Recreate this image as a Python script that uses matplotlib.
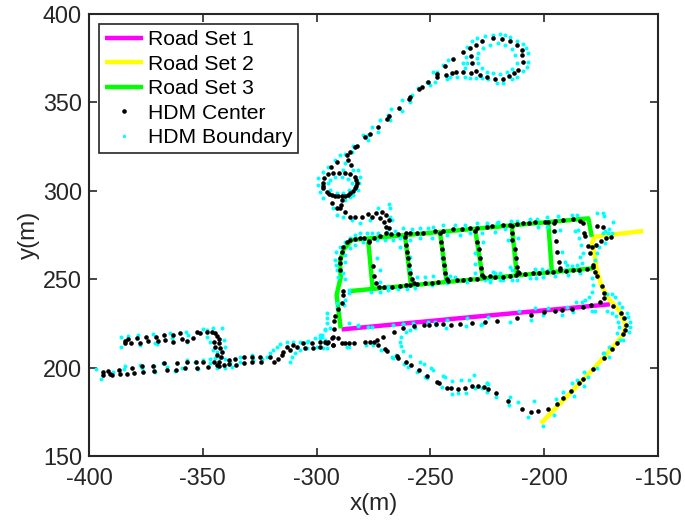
import numpy as np
import matplotlib
matplotlib.use("Agg")
import matplotlib.pyplot as plt

plt.rcParams['font.family'] = ['Liberation Sans', 'DejaVu Sans']
plt.rcParams['axes.unicode_minus'] = False

# road sets, x then y
road1_x = [-289, -230, -171.1]
road1_y = [221.6, 228.8, 235.8]

road2_x = [-156.4, -177.7, -179.1, -178, -176.9, -174.7, -171.8, -166.7, -164.2, -165.2, -169.6, -178.4, -201.4]
road2_y = [277.3, 274, 270.3, 264.6, 255.2, 245.8, 239.2, 231.7, 224.1, 218.8, 211.9, 199.2, 168.5]

# outer loop of set 3, then the cross streets
road3_outer_x = [-289.4, -290.5, -291.2, -289.4, -289.7, -288.3, -284.6, -276.5, -180.6, -179.1]
road3_outer_y = [222.2, 233.5, 241.1, 251.1, 259.9, 266.5, 272.2, 273.1, 284.4, 274]
road3_lower_x = [-285.3, -178.4]
road3_lower_y = [243.3, 256.2]
cross_top_x = [-277.3, -261.2, -245.8, -230.4, -214.3, -198.2]
cross_top_y = [271.2, 275, 276.9, 278.8, 280.7, 281.6]
cross_bot_x = [-275.4, -258.5, -242.9, -227, -212.1, -196.7]
cross_bot_y = [245.4, 246.7, 248.6, 250.5, 253.3, 255.2]

# hdm center points
center_west_upper = [
    (-384.4, 215.2), (-384.1, 213.7), (-382.7, 216), (-381.7, 214.1), (-378.7, 216.5), (-377.8, 214.1),
    (-374.9, 217.5), (-373.9, 215), (-370.5, 217.5), (-369.8, 215.2), (-366.9, 218.4), (-366.6, 215.6),
    (-363.2, 218.4), (-363.2, 214.6), (-360, 219.4), (-359.2, 216), (-357, 215.2), (-354.1, 216.5),
    (-352.4, 219.9), (-351.2, 219.4), (-348.3, 220.3), (-346.1, 220.3), (-344.6, 219.4), (-343.9, 217.8),
    (-343.1, 216), (-342.7, 213.7), (-342.4, 211.2), (-341.7, 209), (-342.1, 206.2), (-345, 214.6),
    (-344.6, 211.8), (-343.9, 207.1), (-342.7, 203.3), (-342.7, 201.1),
]
center_west_lower = [
    (-393.95, 197.7), (-393.7, 195.8), (-391.5, 198.2), (-390.7, 196.4), (-389.7, 195.8), (-386.6, 198.6),
    (-386.3, 196.4), (-383.4, 196.4), (-381.2, 199.6), (-380.2, 196.7), (-376.8, 200.9), (-376.4, 197.7),
    (-372, 200.9), (-371.3, 198.2), (-367, 202.4), (-365.8, 198.6), (-361.4, 202.4), (-361.7, 198.6),
    (-357, 203.3), (-357.8, 199.6), (-352.9, 203.3), (-352.7, 199.6), (-349.7, 203.3), (-347.5, 200.5),
    (-345, 203.3), (-343.9, 201.4), (-340.9, 201.4), (-338.7, 204.3), (-338.7, 202), (-335.8, 204.6),
    (-335.5, 201.4), (-332.1, 205.8), (-332.1, 202.4), (-328.5, 206.2), (-328.5, 202.9), (-324.8, 206.2),
    (-324.5, 203.3), (-320.4, 206.2), (-318.7, 203.3), (-316.8, 204.6), (-315.3, 207.1), (-314.6, 209),
    (-313.1, 211.4), (-311.6, 209.9), (-310.2, 212.8), (-308.7, 211.8), (-305.8, 213.7), (-305.1, 210.9),
    (-302.1, 213.7), (-301.7, 210.9), (-298.7, 214.6), (-298.5, 211.8), (-296.3, 214.6), (-295.5, 213.7),
    (-293.3, 216.5), (-292.6, 212.8),
]
center_left_side = [
    (-285.3, 272.2), (-286.8, 271.2), (-288.3, 268.4), (-289, 265.6), (-289.7, 261.8), (-289.7, 259),
    (-289.7, 255.2), (-288.6, 243.5), (-288.3, 241.1), (-289, 236.4), (-290.5, 233), (-291.9, 229.2),
    (-292.2, 226.4), (-292.2, 221.6), (-292.9, 217.5), (-294.8, 214.7), (-292.6, 212.8),
]
center_top_road = [
    (-283.1, 272.7), (-280.9, 273.1), (-279.2, 273.1), (-277, 271.6), (-274.8, 273.5), (-272.2, 274.6),
    (-269.5, 275.9), (-267.5, 275.4), (-264.1, 275.4), (-260.7, 275.9), (-259, 275.9), (-256, 275.9),
    (-253.1, 276.3), (-248, 277.1), (-244.3, 277.5), (-240.2, 278.2), (-236.3, 278.2), (-232.6, 278.8),
    (-229.7, 278.8), (-225.3, 279.7), (-223.1, 280.1), (-217.9, 280.7), (-215, 280.7), (-212.1, 281),
    (-209.5, 281.6), (-206.5, 282), (-204, 282.2), (-199.6, 282.5), (-198.2, 282.5), (-195.2, 283.1),
    (-191.6, 283.5), (-187.2, 283.9), (-184.3, 283.1),
]
center_low_road = [
    (-270.4, 245.4), (-267, 245.8), (-263.4, 246.2), (-260.7, 246.7), (-259, 246.7), (-256, 247.1),
    (-252.4, 247.7), (-249.4, 248), (-246.5, 248.6), (-242.1, 249.2), (-238.5, 249.6), (-235.5, 249.6),
    (-232.6, 250), (-229.7, 250.3), (-226.5, 251), (-223.8, 251.8), (-221.6, 251), (-218.2, 251.4),
    (-215, 251.8), (-212.4, 252.4), (-210.9, 253.3), (-208.4, 252.9), (-204.8, 253.7), (-202.1, 253.7),
    (-198.9, 253.9), (-196.3, 254.3), (-193, 255.2), (-190.4, 254.7), (-187.2, 255.2), (-184.7, 255.2),
    (-181, 255.8), (-178.4, 256.7),
]
center_cross = [
    (-276.8, 271.2), (-275.4, 257.5), (-274.8, 251.8), (-273.9, 247.7), (-272.4, 245.8),
    (-261.2, 273.7), (-260.7, 269.4), (-260.1, 265.6), (-259.7, 261.8), (-259.3, 258), (-259, 253.3),
    (-258.2, 249.9), (-257.2, 247.7),
    (-245.8, 275.9), (-245.3, 271.2), (-244.9, 266.9), (-244.3, 261.8), (-244, 258), (-243.4, 253.3), (-242.6, 249.9),
    (-230.4, 277.5), (-229.4, 271.2), (-228.8, 266.9), (-228.2, 261.8), (-227.9, 256.1), (-227.3, 252.4),
    (-214.3, 280.1), (-214.3, 276.3), (-214, 272.2), (-212.8, 266.9), (-212.5, 261.8), (-212.1, 257.1), (-211.4, 254.3),
    (-195.7, 281.6), (-195.7, 277.5), (-194.8, 271.6), (-194.2, 265.6), (-193.5, 259.5), (-193, 256.1),
]
center_east = [
    (-183.1, 281.6), (-182.5, 275.9), (-182.1, 274.4), (-180.9, 268.8), (-179.1, 268), (-179.9, 265),
    (-176.7, 280.1), (-174.3, 279.3), (-170.8, 273.7), (-172.8, 273.1), (-175.2, 271.8), (-177.4, 269.3),
    (-178.4, 258), (-177.7, 254.3), (-176.6, 251.8), (-174.7, 246.4), (-173.7, 242), (-173.7, 239.2),
    (-175.5, 237.3), (-179.6, 235.4), (-182.8, 234.5), (-187.9, 233), (-192.3, 232.6), (-195.2, 232.2),
    (-199.9, 231.6), (-205.8, 229.9), (-212.1, 228.3), (-220.9, 226.4), (-226, 225.6),
    (-169.6, 234.9), (-166.2, 231.1), (-164.9, 227.9), (-164.2, 224.1), (-164.5, 221.3), (-165.2, 218.8),
    (-168.2, 213.7), (-170.4, 210.4), (-173.7, 205.6), (-178.4, 199.2), (-183.1, 193.6), (-184.7, 191.5),
    (-188.2, 187), (-191.9, 182.6), (-194.2, 179.4), (-198.2, 176.6), (-202.6, 175.3), (-205.8, 175.1),
    (-209.6, 176.4), (-215.8, 181.1), (-221.3, 185.8), (-224.5, 188.1), (-226.4, 189.2),
]
center_south = [
    (-231.9, 225.4), (-237, 224.5), (-241.1, 224.1), (-244.3, 224.7), (-247.5, 224.5), (-250.5, 224.1),
    (-252.7, 224.1), (-257.2, 223.5), (-261.9, 222.2), (-266, 220.3), (-270.7, 217.5),
    (-290.4, 216.5), (-289, 214.1), (-287.5, 213.7), (-285.6, 213.7), (-283.4, 214.1), (-278.7, 214.5),
    (-276.5, 214.6), (-274.8, 214.6), (-273.6, 215.6), (-272.9, 212.8), (-269.9, 210.5), (-268.9, 209.6),
    (-264.5, 206.5), (-264.1, 205.6), (-260.7, 203.3), (-258.7, 201.5), (-255.1, 198.6), (-251.3, 195.4),
    (-246.9, 192), (-246.1, 191.3), (-242.5, 188.6), (-241.1, 188.3), (-237.9, 187.9), (-234.6, 188.6),
    (-231.6, 189.4), (-229.1, 189.6),
]
center_ring = [
    (-297.3, 304.2), (-297, 301.4), (-295.6, 299.1), (-293.4, 297.6), (-290.5, 297.1), (-287.5, 297.3),
    (-285.3, 298.6), (-283.1, 301.4), (-282.4, 304.2), (-283.1, 308), (-285.3, 309.5), (-287.5, 309.9),
    (-290, 310.3), (-292.7, 309.9), (-294.9, 309.3), (-296.8, 307.1), (-297.2, 302.7), (-294.6, 298.2),
    (-291.9, 297.3), (-289, 297.1), (-286.4, 297.8), (-284.2, 299.9), (-282.7, 302.7), (-282.7, 306.1),
]
center_north = [
    (-293.8, 313.3), (-290.9, 316.5), (-285.3, 321.8), (-286.8, 320.3), (-286.1, 317.4), (-285, 314.6),
    (-283.1, 325), (-282.1, 325.3), (-278.7, 330.2), (-276.5, 332.1), (-272.9, 336.3), (-269.2, 340.6),
    (-268, 342.5), (-263.8, 346.8), (-259.5, 351.7), (-259, 352.9), (-254.9, 357.6), (-253.8, 358.5),
    (-251.1, 361.5), (-247.3, 364.6), (-247.3, 366.1), (-243.1, 365.5), (-240.7, 366.4), (-238.8, 367.4),
    (-235.5, 367.4), (-232.2, 366.4), (-230, 367.9), (-228.2, 365.5), (-225.3, 364.2), (-221.6, 363.2),
    (-218.3, 363.2), (-215.3, 364.9), (-213.3, 366.4), (-211.4, 368.3), (-209.5, 373), (-209.6, 376.8),
    (-209.9, 379.6), (-212.1, 382.5), (-215, 384.9), (-218.4, 385.9), (-222.6, 386.2), (-227.2, 384.9),
    (-230.1, 382.5), (-232.6, 380.6), (-232.2, 376.2), (-231.9, 372.1), (-235.8, 378.3), (-240.2, 374.4),
    (-243.6, 370.8),
]
center_link = [
    (-289, 294.8), (-289.4, 292), (-289.7, 290.1), (-293.4, 292.9), (-291.2, 290.1), (-287.5, 288.2),
    (-285.3, 285.4), (-283.1, 285.4), (-280.2, 285), (-277.3, 286.7), (-275.8, 285.4), (-273.9, 287.6),
    (-271.4, 288.2), (-269.5, 286.3), (-268, 283.5), (-272.2, 284.4), (-270.4, 282.6), (-269.5, 279.7),
    (-268, 278.8),
]

# hdm boundary points
boundary_west = [
    (-394.8, 193.5), (-396.9, 199.4), (-389.3, 197.7), (-384.1, 201.1), (-384.6, 199.2), (-377.5, 201.4),
    (-376.8, 199.6), (-371.4, 200.9), (-371, 197.7), (-367.3, 202.4), (-365.8, 200.5), (-362.2, 198.2),
    (-357, 204.3), (-359.2, 199.6), (-353.4, 203.3), (-351.9, 199.2), (-349.7, 204.3), (-346.8, 204.7),
    (-344.6, 205.2), (-342.4, 205.2), (-340.2, 204.7), (-338, 203.3), (-337.3, 200.5), (-340.2, 199.6),
    (-346.8, 202.4), (-343.9, 199.6), (-333.6, 206.2), (-333.6, 203.3), (-328.5, 207.1), (-328, 204.3),
    (-324.1, 204.7), (-321.9, 206.2), (-320.4, 208), (-319, 209.9), (-317.5, 211.8), (-316, 213.3),
    (-313.1, 214.6), (-310.2, 214.6), (-307.3, 214.6), (-303.6, 215.2), (-297.7, 218.4), (-296.3, 215.6),
    (-298.5, 216.5), (-295.5, 210.9), (-311.6, 203.3), (-310.9, 206.2), (-309.4, 208), (-307.3, 209.9),
    (-304.3, 210.9), (-299.9, 211.8), (-297, 210.9),
    (-386, 217.5), (-386, 211.4), (-382.7, 217.8), (-378.3, 218.4), (-377.6, 212.8), (-371.7, 219),
    (-371, 214.1), (-370.2, 213.3), (-364.4, 219.4), (-363.6, 216.5), (-357.3, 220.3), (-356.3, 218.4),
    (-357, 214.6), (-349.7, 221.8), (-348.3, 221.2), (-345.3, 222.2), (-341.7, 222.2), (-348.3, 217.5),
    (-346.8, 214.6), (-345.3, 209.9), (-343.9, 209), (-340.2, 211.8), (-340.9, 215.6),
    (-295.5, 230.7), (-296.3, 221.6), (-294.1, 222.2), (-291.1, 236.3),
]
boundary_left_side = [
    (-291.9, 260.9), (-291.5, 258), (-290.9, 255.2), (-290.5, 251.4), (-291.5, 265.6), (-289.7, 268.4),
    (-287.5, 271.2), (-285.3, 273.1), (-283.1, 275), (-280.9, 275.9), (-278, 275.9), (-287.5, 259.9),
    (-287.5, 263.7), (-285.3, 267.5), (-283.1, 269.4), (-279.5, 271.2), (-288.3, 253.3), (-287.5, 249.9),
    (-285.6, 243.9), (-285.6, 242), (-287.8, 235.4), (-287.5, 238.2), (-290.9, 233.5), (-295.6, 227.9),
    (-295.6, 225), (-296.3, 221.3), (-298.5, 218.4), (-300.7, 216.6), (-304.4, 214.7), (-297.8, 217.5),
    (-296.3, 214.1),
]
boundary_grid = [
    (-275.8, 275.9), (-272.9, 276.3), (-269.2, 276.9), (-265.6, 277.5), (-261.9, 278.8), (-258.2, 278.2),
    (-254.6, 278.8), (-250.9, 278.8), (-248.7, 279.7), (-244.3, 280.7), (-239.2, 280.7), (-234.8, 280.7),
    (-229.7, 281.6), (-225.3, 280.7), (-220.9, 281.6), (-273.6, 272.2), (-270, 272.2), (-266.3, 272.2),
    (-263.4, 273.1), (-259, 272.2), (-254.6, 273.1), (-249.4, 273.5), (-242.9, 275), (-237, 275),
    (-232.6, 275.9), (-227.5, 275.9), (-221.6, 276.9), (-263.4, 268), (-273.6, 262.2), (-272.2, 255.2),
    (-272.2, 248.6), (-259, 262.8), (-259, 255.2), (-245.1, 261.8), (-230.4, 264.6), (-230.4, 258.6),
    (-276.3, 243), (-272.2, 243), (-268.5, 243.9), (-264.1, 244.3), (-260.4, 244.3), (-256.8, 244.8),
    (-249.4, 246.7), (-242.9, 247.7), (-234.1, 248.6), (-223.8, 249.6), (-219.4, 249.6), (-268.5, 245.8),
    (-256, 251.1), (-252.4, 251.1), (-248.7, 251.8), (-241.4, 251.8), (-239.2, 251.1), (-230.4, 253.3),
    (-222.4, 254.3),
    (-225.3, 282), (-220.1, 282.5), (-214.7, 283.1), (-212.1, 283.1), (-206.2, 283.9), (-203.3, 283.9),
    (-198.9, 285.4), (-193.8, 285.7), (-187.9, 286.3), (-185.7, 286.3), (-176.6, 287.6), (-174.3, 287.6),
    (-173.7, 285.7), (-169.6, 282.5), (-171.4, 278.2), (-173.3, 277.5), (-170.3, 275.9), (-171.8, 275.9),
    (-174, 275.9), (-226.7, 271.2), (-217.2, 278.2), (-215.8, 272.2), (-211.4, 273.1), (-202.6, 279.7),
    (-198.9, 279.3), (-193.1, 277.8), (-195.2, 277.5), (-186.5, 277.5), (-185, 277.8), (-184.6, 273.1),
    (-184, 269.4), (-192.3, 265.6), (-184.3, 262.7), (-182.8, 264.6), (-183.5, 259), (-187.9, 257.5),
    (-190.1, 258), (-190.9, 259.9), (-185.7, 258), (-221.6, 253.3), (-219.4, 253.3), (-214.3, 255.2),
    (-215, 256.7), (-204, 255.6), (-201.1, 255.6), (-198.2, 255.2), (-190.9, 255.2), (-226, 249.6),
    (-223.8, 248.2), (-218, 249.6), (-214.3, 249.6), (-212.1, 249.6), (-206.2, 250.5), (-203.6, 250.5),
    (-200.4, 251.1), (-195.2, 251.8), (-189.4, 252.4), (-184.3, 253.3),
]
boundary_east = [
    (-173.3, 270.3), (-175.8, 268.4), (-176.9, 264.6), (-177.5, 260.9), (-179.1, 250.5), (-178.7, 246.7),
    (-179.1, 242.9), (-180.2, 240.1), (-182.1, 238.2), (-183.5, 237.3), (-186, 236.9), (-172.5, 241.5),
    (-170.3, 241.6), (-168.9, 240.1), (-167, 236.4), (-165.9, 234.5), (-163.8, 230.7), (-163, 228.8),
    (-162.3, 226), (-162.3, 223.2), (-162.6, 220.3), (-165.2, 215.6), (-171.4, 211.9), (-173.7, 208.1),
    (-179.1, 232.2), (-177.7, 232.2), (-172.5, 232), (-170.3, 231.1), (-168.4, 229.2), (-167.4, 226),
    (-167, 223.2), (-167.9, 219.4), (-174.3, 208.1), (-182.5, 197.7), (-185.7, 193), (-187.9, 191.1),
    (-191.6, 186.4), (-194.8, 182.1), (-166.7, 215.6), (-171.4, 206.2), (-176.9, 199.6), (-180.6, 194.9),
    (-182.5, 189.6), (-186.8, 184.1), (-195.7, 173), (-200.7, 167), (-207, 171.9), (-204.5, 181.1),
    (-211.4, 180.4), (-215, 183.2), (-215.3, 178.7), (-221.3, 183.2), (-225, 191.1), (-198.2, 233.5),
    (-211.1, 232.2), (-190.1, 234.5), (-204, 233.5), (-200.4, 229.8), (-205.8, 226.9), (-192.3, 229.8),
    (-187.2, 231.6), (-215, 226),
]
boundary_south = [
    (-285.8, 225), (-281.7, 223.7), (-277.3, 223.1), (-275.5, 223.1), (-266.3, 224), (-262.2, 224.5),
    (-257.8, 225), (-250.9, 225.6), (-247.5, 224.1), (-243.1, 222.6), (-234.3, 223.5), (-227.9, 224.1),
    (-258.9, 221.2), (-260.7, 220.3), (-262.9, 217.1), (-263.3, 214.6), (-263.1, 212.2), (-262.2, 209.4),
    (-265.1, 207.1), (-258.9, 206.5), (-254.6, 203.3), (-252.7, 201.8), (-249.9, 199.6), (-248.7, 198.6),
    (-244.6, 195.4), (-243.6, 194.5), (-240.6, 192.4), (-236.5, 192.8), (-232.9, 193.2), (-231, 195.8),
    (-225.3, 191.1), (-224.5, 190.5), (-278.4, 212.8), (-275.4, 212.8), (-271.8, 209.9), (-267, 205.8),
    (-266.3, 205.6), (-261.6, 202), (-260, 200.5), (-256, 197.7), (-252.4, 194.5), (-251.6, 193.9),
    (-244.7, 188.8), (-240.4, 185), (-237.7, 185.4), (-234.3, 185.8), (-230.4, 188.3), (-227.5, 188.3),
    (-225, 186.4), (-286.8, 211.8), (-285.6, 211.8), (-281.7, 224.1), (-261.9, 224.7), (-248, 226),
    (-242.6, 226.9), (-234.1, 227.9), (-224.5, 228.8), (-227.5, 224.5), (-256.8, 222.2),
]
boundary_north = [
    (-234, 381.5), (-231.9, 384.9), (-229.7, 386.2), (-226, 387.6), (-222.4, 388.1), (-219.4, 388.7),
    (-217.2, 388.1), (-215, 387.2), (-212.1, 384.9), (-209.2, 383), (-208, 380.6), (-207, 377.8),
    (-207, 373), (-207.7, 369.8), (-209.2, 367.9), (-212.1, 364.6), (-214.3, 363), (-218, 361.2),
    (-220.9, 361.2), (-224.6, 363), (-227.5, 363.6), (-230, 363.6), (-232.6, 363.6), (-234.8, 364.2),
    (-238.5, 364.6), (-241.4, 364.2), (-242.9, 363),
    (-229.7, 374.9), (-229, 372.1), (-227.5, 369.3), (-225.3, 367.4), (-222.4, 366.4), (-219.4, 366.1),
    (-216.5, 367.4), (-214.3, 368.7), (-212.1, 372.1), (-212.8, 376.8), (-214.3, 380), (-217.2, 382.5),
    (-220.2, 383.4), (-223.8, 382.5), (-226.7, 380.6), (-229, 377.8),
    (-234.4, 375.9), (-235.5, 372.1), (-234, 372.1), (-234.8, 369.3), (-244.3, 371.2), (-242.1, 374),
    (-247.3, 367.4), (-248, 361.7), (-250.2, 359.8), (-251.6, 361.7), (-248.7, 367.4), (-255.3, 358),
    (-258.2, 354.2), (-259, 350.4), (-262.6, 351.4), (-262.6, 345.3), (-267.3, 346.1), (-267.8, 340),
    (-268.5, 342.9), (-272.2, 340), (-272.9, 333.4), (-275.8, 335.9), (-277.3, 331.6), (-279.5, 331.6),
    (-277.3, 328.7), (-283.9, 325.3), (-284.6, 322.1), (-287.5, 320.8), (-289.7, 320.3), (-291.9, 317.4),
    (-287.5, 315.5), (-283.9, 311.8), (-288.3, 311.8), (-281.7, 311.8), (-294.9, 313.7), (-297, 310.8),
    (-299.2, 307.1), (-299.2, 303.3), (-298.5, 299.5), (-297, 295.8), (-280.9, 308), (-281.2, 304.2),
    (-281.7, 300.5), (-283.9, 297.6), (-285.3, 296.7), (-287.5, 294.8), (-292.7, 290.1), (-291.2, 286.3),
    (-288.3, 285.4), (-284.6, 283.5), (-280.9, 282), (-276.5, 283.5), (-268, 292.4), (-267.8, 290.1),
    (-267.8, 285.4), (-267, 283.5), (-272.9, 290.1),
    (-294.9, 304.2), (-294.1, 306.1), (-291.9, 307.6), (-289, 307.6), (-286.1, 306.5), (-284.6, 304.2),
    (-285.6, 300.5), (-288.3, 299), (-291.2, 299), (-294.1, 300.5),
]

center = np.array(center_west_upper + center_west_lower + center_left_side + center_top_road
                  + center_low_road + center_cross + center_east + center_south + center_ring
                  + center_north + center_link)
boundary = np.array(boundary_west + boundary_left_side + boundary_grid + boundary_east
                    + boundary_south + boundary_north)

dark = '#262626'

fig = plt.figure(figsize=(6.85, 5.29), dpi=100)
ax = fig.add_axes([89 / 685, 1 - 456 / 529, 569 / 685, 442 / 529])

ax.plot(road1_x, road1_y, color='#ff00ff', lw=3.2, label='Road Set 1', solid_capstyle='butt')
ax.plot(road2_x, road2_y, color='#ffff00', lw=3.2, label='Road Set 2', solid_capstyle='butt')
ax.plot(road3_outer_x, road3_outer_y, color='#00ff00', lw=3.2, label='Road Set 3', solid_capstyle='butt')
ax.plot(road3_lower_x, road3_lower_y, color='#00ff00', lw=3.2, solid_capstyle='butt')
for i in range(len(cross_top_x)):
    ax.plot([cross_top_x[i], cross_bot_x[i]], [cross_top_y[i], cross_bot_y[i]],
            color='#00ff00', lw=3.2, solid_capstyle='butt')

ax.plot(boundary[:, 0], boundary[:, 1], 'o', color='#00ffff', ms=2.9, mew=0, zorder=3)
ax.plot(center[:, 0], center[:, 1], 'o', color='k', ms=3.3, mew=0, label='HDM Center', zorder=4)
ax.plot([], [], 'o', color='#00ffff', ms=2.4, mew=0, label='HDM Boundary')

ax.set_xlim(-400, -150)
ax.set_ylim(150, 400)
ax.set_xticks([-400, -350, -300, -250, -200, -150])
ax.set_yticks([150, 200, 250, 300, 350, 400])
ax.tick_params(direction='in', length=5.5, width=1.2, top=True, right=True, colors=dark, labelsize=16.8)
ax.tick_params(axis='x', pad=8)
ax.tick_params(axis='y', pad=5)
for side in ax.spines.values():
    side.set_linewidth(1.5)
    side.set_color(dark)
ax.set_xlabel('x(m)', fontsize=17.5, color=dark, labelpad=2)
ax.set_ylabel('y(m)', fontsize=17.5, color=dark, labelpad=2)

leg = ax.legend(loc='upper left', bbox_to_anchor=(0.0176, 0.977), fontsize=15.2, frameon=True, fancybox=False,
                edgecolor=dark, framealpha=1, borderaxespad=0, handlelength=1.8, handletextpad=0.24,
                labelspacing=0.26, borderpad=0.28)
leg.get_frame().set_linewidth(1.2)

fig.savefig('out.png', dpi=100)
